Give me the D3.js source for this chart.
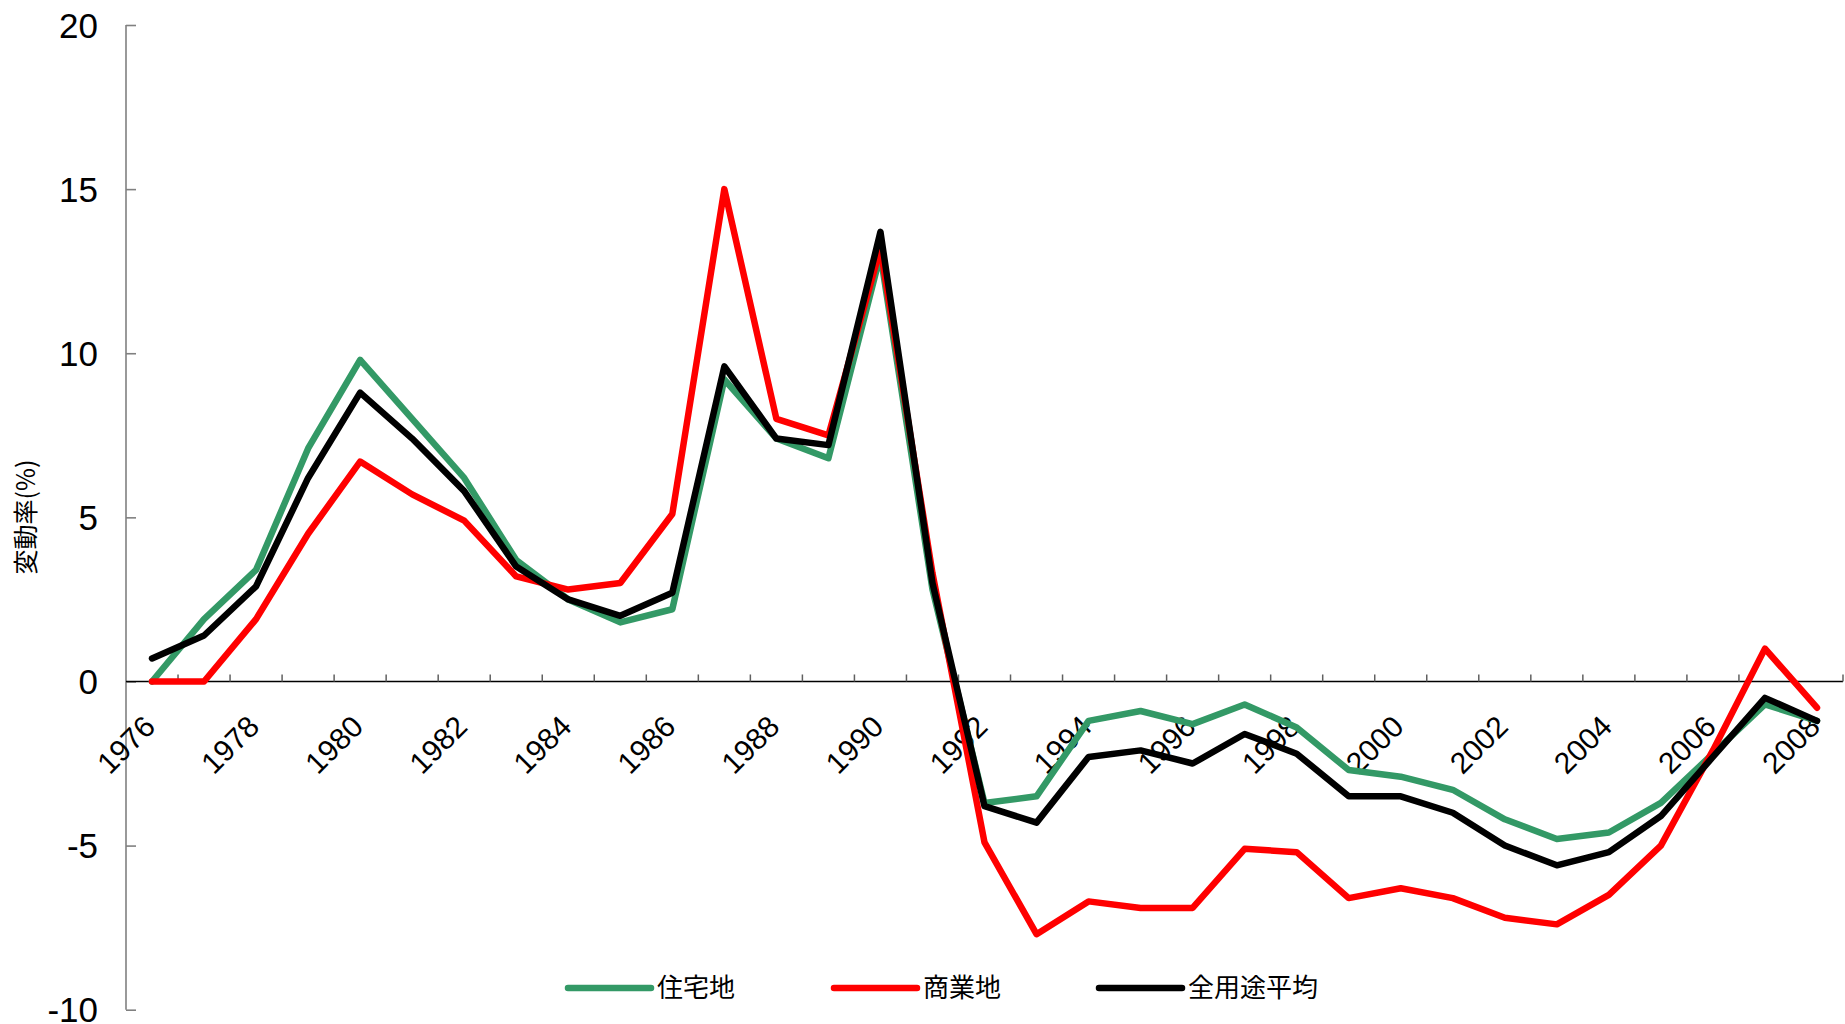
<!DOCTYPE html>
<html>
<head>
<meta charset="utf-8">
<script src="https://cdn.jsdelivr.net/npm/d3@7"></script>
<style>
  html, body { margin: 0; padding: 0; background: #fff; }
  svg { display: block; }
</style>
</head>
<body>
<svg id="chart" width="1845" height="1024"></svg>
<script>
const years = [1976,1977,1978,1979,1980,1981,1982,1983,1984,1985,1986,1987,1988,1989,1990,1991,1992,1993,1994,1995,1996,1997,1998,1999,2000,2001,2002,2003,2004,2005,2006,2007,2008];
const residential = [0,1.9,3.4,7.1,9.8,8.0,6.2,3.7,2.5,1.8,2.2,9.2,7.4,6.8,13.0,2.8,-3.7,-3.5,-1.2,-0.9,-1.3,-0.7,-1.4,-2.7,-2.9,-3.3,-4.2,-4.8,-4.6,-3.7,-2.2,-0.7,-1.2];
const commercial = [0,0,1.9,4.5,6.7,5.7,4.9,3.2,2.8,3.0,5.1,15.0,8.0,7.5,13.2,3.3,-4.9,-7.7,-6.7,-6.9,-6.9,-5.1,-5.2,-6.6,-6.3,-6.6,-7.2,-7.4,-6.5,-5.0,-2.1,1.0,-0.8];
const allUse = [0.7,1.4,2.9,6.2,8.8,7.4,5.8,3.5,2.5,2.0,2.7,9.6,7.4,7.2,13.7,3.0,-3.8,-4.3,-2.3,-2.1,-2.5,-1.6,-2.2,-3.5,-3.5,-4.0,-5.0,-5.6,-5.2,-4.1,-2.3,-0.5,-1.2];
const seriesNames = ["住宅地","商業地","全用途平均"];
const seriesColors = ["#339966","#ff0000","#000000"];
const yTicks = [-10,-5,0,5,10,15,20];
const xTickLabels = [1976,1978,1980,1982,1984,1986,1988,1990,1992,1994,1996,1998,2000,2002,2004,2006,2008];
const yTitle = "変動率(%)";

(function () {
const svg = d3.select("#chart");
const pLeft = 126, pRight = 1843, pTop = 25, pBottom = 1009.7;

const x = d3.scaleBand().domain(years).range([pLeft, pRight]).paddingInner(0).paddingOuter(0);
const y = d3.scaleLinear().domain([-10, 20]).range([pBottom, pTop]);
const cx = d => x(d) + x.bandwidth() / 2;
const y0 = y(0);

// Y axis
const yAxis = d3.axisRight(y).tickValues(yTicks).tickSize(10).tickFormat("");
const gy = svg.append("g").attr("transform", `translate(${pLeft},0)`).call(yAxis);
gy.select(".domain").attr("stroke", "#808080").attr("stroke-width", 1.6).attr("d", `M0,${pTop}V${pBottom}`);
gy.selectAll(".tick line").attr("stroke", "#808080").attr("stroke-width", 1.6);

// Y tick labels
svg.append("g").selectAll("text").data(yTicks).join("text")
  .attr("x", 98).attr("y", d => y(d)).attr("dy", "0.36em")
  .attr("text-anchor", "end")
  .attr("font-family", "Liberation Sans, Arial, sans-serif")
  .attr("font-size", 35).attr("fill", "#000")
  .text(d => d);

// X axis at zero
const boundaries = years.map(d => x(d)).concat([pRight]);
const gx = svg.append("g");
gx.append("line").attr("x1", pLeft).attr("x2", pRight).attr("y1", y0).attr("y2", y0)
  .attr("stroke", "#000").attr("stroke-width", 1.6);
gx.selectAll("line.tk").data(boundaries.slice(1)).join("line").attr("class", "tk")
  .attr("x1", d => d).attr("x2", d => d).attr("y1", y0).attr("y2", y0 - 7)
  .attr("stroke", "#606060").attr("stroke-width", 1.5);

// X tick labels
gx.selectAll("text").data(xTickLabels).join("text")
  .attr("transform", d => `translate(${cx(d) - 2.5},${y0 + 39.5}) rotate(-45)`)
  .attr("text-anchor", "end").attr("dy", "0.35em")
  .attr("font-family", "Liberation Sans, Arial, sans-serif")
  .attr("font-size", 30).attr("fill", "#000")
  .text(d => d);

// Y title
svg.append("text")
  .attr("transform", `translate(26,517) rotate(-90)`)
  .attr("text-anchor", "middle").attr("dy", "0.35em")
  .attr("font-family", "Noto Sans CJK JP, sans-serif")
  .attr("font-size", 25).attr("fill", "#000")
  .text(yTitle);

// Lines
const data = [residential, commercial, allUse];
const line = d3.line().x((d, i) => cx(years[i])).y(d => y(d));
svg.append("g").selectAll("path").data(data).join("path")
  .attr("d", d => line(d))
  .attr("fill", "none")
  .attr("stroke", (d, i) => seriesColors[i])
  .attr("stroke-width", 6.5)
  .attr("stroke-linejoin", "round")
  .attr("stroke-linecap", "round");

// Legend
const legendX = [568, 834, 1099];
const legendY = 988;
const lg = svg.append("g").selectAll("g").data(seriesNames).join("g")
  .attr("transform", (d, i) => `translate(${legendX[i]},${legendY})`);
lg.append("line").attr("x1", 0).attr("x2", 83).attr("y1", 0).attr("y2", 0)
  .attr("stroke", (d, i) => seriesColors[i]).attr("stroke-width", 6.5).attr("stroke-linecap", "round");
lg.append("text").attr("x", 89).attr("y", 0).attr("dy", "0.36em")
  .attr("font-family", "Noto Sans CJK JP, sans-serif")
  .attr("font-size", 26).attr("fill", "#000")
  .text(d => d);
})();
</script>
</body>
</html>
